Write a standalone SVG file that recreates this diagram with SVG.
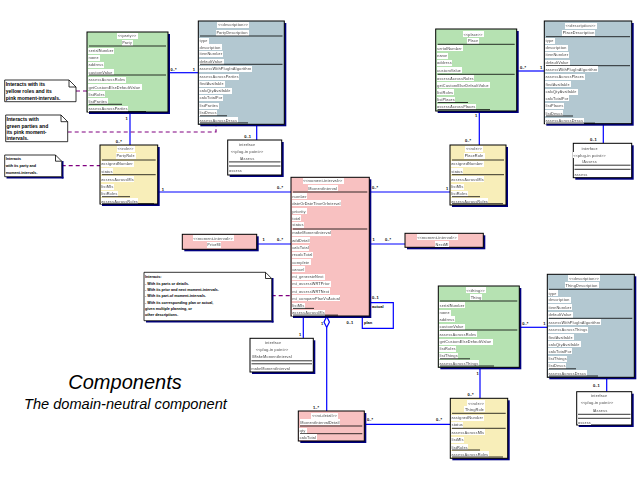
<svg xmlns="http://www.w3.org/2000/svg" width="640" height="480" viewBox="0 0 640 480">
<defs>
<filter id="bg" x="0" y="0" width="1" height="1"><feFlood flood-color="#ffffff"/><feComposite in="SourceGraphic" operator="over"/></filter>
<style>
.t{font-family:"Liberation Sans",Arial,sans-serif;font-size:3.9px;font-weight:bold;fill:#000;filter:url(#bg)}
.c{text-anchor:middle}
.m{font-family:"Liberation Sans",Arial,sans-serif;font-size:4px;font-weight:bold;fill:#000}
.n{font-family:"Liberation Sans",Arial,sans-serif;font-size:5px;font-weight:bold;fill:#000}
.n4{font-family:"Liberation Sans",Arial,sans-serif;font-size:3.7px;font-weight:bold;fill:#000}
.box{stroke:#000;stroke-width:1}
.sh{fill:#000080}
.grn{fill:#B6E2B2}
.blu{fill:#B3C8D1}
.yel{fill:#F8EEB9}
.pnk{fill:#F8C1C1}
.wht{fill:#fff}
.s{stroke:#000;stroke-width:0.8}
.conn path,.conn line{stroke:#0000FF;stroke-width:1.2;fill:none}
.conn path.dash{stroke:#800080;stroke-width:1.2;fill:none;stroke-dasharray:4 3}
.note{fill:#fff;stroke:#000;stroke-width:0.8}
.fold{fill:none;stroke:#000;stroke-width:0.8}
</style>
</defs>
<rect width="640" height="480" fill="#fff"/>

<g class="conn" id="connectors">
<line x1="168" y1="72.7" x2="198.3" y2="72.7"/>
<line x1="130" y1="112" x2="130" y2="145"/>
<line x1="256.7" y1="124.3" x2="256.7" y2="140"/>
<line x1="157.7" y1="192" x2="291" y2="192"/>
<line x1="516.7" y1="71" x2="544.3" y2="71"/>
<line x1="479.3" y1="111" x2="479.3" y2="145"/>
<line x1="603.3" y1="123.7" x2="603.3" y2="143.3"/>
<line x1="369.3" y1="192" x2="450" y2="192"/>
<line x1="256.7" y1="244" x2="291" y2="244"/>
<line x1="369.3" y1="244" x2="405" y2="244"/>
<path d="M369.3,302.7 H393.3 V328.3 H362.3 V316"/>
<line x1="303.3" y1="316" x2="303.3" y2="338.3"/>
<line x1="326.7" y1="327.5" x2="326.7" y2="411"/>
<path d="M326.7,316.5 L329.4,322 L326.7,327.5 L324,322 Z" style="fill:#fff"/>
<line x1="364.3" y1="424.3" x2="450.3" y2="424.3"/>
<line x1="480" y1="367.3" x2="480" y2="398.3"/>
<line x1="519.3" y1="327.3" x2="547.3" y2="327.3"/>
<line x1="606.7" y1="377.3" x2="606.7" y2="391.7"/>
<path class="dash" d="M76,91 H87"/>
<path class="dash" d="M67.7,132 H216 V124.3"/>
<path class="dash" d="M61.7,165.7 H100"/>
<path class="dash" d="M271.7,295.7 H291"/>
</g>

<g id="labels">
<text class="m" x="170.5" y="70.7">0..*</text>
<text class="m" x="192.7" y="70.7">1</text>
<text class="m" x="125.5" y="120">1</text>
<text class="m" x="115.7" y="143">0..*</text>
<text class="m" x="244.3" y="138">0..1</text>
<text class="m" x="161.7" y="190.5">1</text>
<text class="m" x="277" y="188.5">0..*</text>
<text class="m" x="520" y="68.7">0..*</text>
<text class="m" x="540" y="68.7">1</text>
<text class="m" x="475" y="117">1</text>
<text class="m" x="465" y="142.4">0..*</text>
<text class="m" x="590" y="140.7">0..1</text>
<text class="m" x="372" y="188.5">0..*</text>
<text class="m" x="446" y="189.5">1</text>
<text class="m" x="262.5" y="241.4">1</text>
<text class="m" x="277" y="241.4">0..*</text>
<text class="m" x="372.5" y="241.4">1</text>
<text class="m" x="385" y="241.4">0..*</text>
<text class="m" x="372" y="299.1">0..1</text>
<text class="m" x="372" y="308.1">actual</text>
<text class="m" x="346.5" y="324.1">0..1</text>
<text class="m" x="364" y="324.1">plan</text>
<text class="m" x="299" y="336.4">1</text>
<text class="m" x="321" y="324.7">1</text>
<text class="m" x="313" y="409.1">1..*</text>
<text class="m" x="367" y="421.4">0..*</text>
<text class="m" x="436" y="421.4">0..*</text>
<text class="m" x="476.5" y="374.7">1</text>
<text class="m" x="467.5" y="395.7">0..*</text>
<text class="m" x="522.3" y="324.7">0..*</text>
<text class="m" x="543.3" y="324.7">1</text>
<text class="m" x="593" y="387.4">0..1</text>
</g>

<g id="party">
<rect class="sh" x="89" y="34" width="81" height="80"/>
<rect class="box grn" x="87" y="32" width="81" height="80"/>
<text class="t c" x="127" y="37.4">&lt;&lt;party&gt;&gt;</text>
<text class="t c" x="127" y="44.4">Party</text>
<line class="s" x1="89" y1="46" x2="166" y2="46"/>
<text class="t" x="88.5" y="52.1">serialNumber</text>
<text class="t" x="88.5" y="59.1">name</text>
<text class="t" x="88.5" y="66.4">address</text>
<text class="t" x="88.5" y="73.7">customValue</text>
<line class="s" x1="89" y1="75" x2="166" y2="75"/>
<text class="t" x="88.5" y="81.4">assessAcrossRoles</text>
<text class="t" x="88.5" y="88.7">getCustomElseDefaultValue</text>
<text class="t" x="88.5" y="95.9">listRoles</text>
<text class="t" x="88.5" y="102.9">listParties</text>
<text class="t" x="88.5" y="110.4">assessAcrossParties</text>
<line class="s" x1="89" y1="104.3" x2="122" y2="104.3"/>
<line class="s" x1="89" y1="111.5" x2="146" y2="111.5"/>
</g>

<g id="partyDescription">
<rect class="sh" x="200.3" y="23" width="86" height="103.3"/>
<rect class="box blu" x="198.3" y="21" width="86" height="103.3"/>
<text class="t c" x="233" y="26.4">&lt;&lt;description&gt;&gt;</text>
<text class="t c" x="232" y="34.1">PartyDescription</text>
<line class="s" x1="200" y1="36" x2="282.5" y2="36"/>
<text class="t" x="199.5" y="42.1">type</text>
<text class="t" x="199.5" y="48.7">description</text>
<text class="t" x="199.5" y="55.4">itemNumber</text>
<text class="t" x="199.5" y="63.1">defaultValue</text>
<line class="s" x1="200" y1="64.3" x2="282.5" y2="64.3"/>
<text class="t" x="199.5" y="70.4">assessWithPlugInAlgorithm</text>
<text class="t" x="199.5" y="78.1">assessAcrossParties</text>
<text class="t" x="199.5" y="85.4">findAvailable</text>
<text class="t" x="199.5" y="92.4">calcQtyAvailable</text>
<text class="t" x="199.5" y="99.4">calcTotalFor</text>
<text class="t" x="199.5" y="107.1">listParties</text>
<text class="t" x="199.5" y="114.4">listDescs</text>
<text class="t" x="199.5" y="121.7">assessAcrossDescs</text>
<line class="s" x1="200" y1="115.8" x2="227" y2="115.8"/>
<line class="s" x1="200" y1="122.9" x2="248" y2="122.9"/>
</g>

<g id="partyDescriptionPlugIn">
<rect class="sh" x="229.7" y="142" width="54" height="35"/>
<rect class="box wht" x="227.7" y="140" width="54" height="35"/>
<text class="t c" x="247" y="146.4">interface</text>
<text class="t c" x="247" y="153.4">&lt;&lt;plug-in point&gt;&gt;</text>
<text class="t c" x="247" y="160.1">IAssess</text>
<line class="s" x1="229" y1="161.9" x2="280.5" y2="161.9"/>
<line class="s" x1="229" y1="166" x2="280.5" y2="166"/>
<text class="t" x="229" y="172.4">assess</text>
</g>

<g id="partyRole">
<rect class="sh" x="102" y="147" width="57.7" height="59"/>
<rect class="box yel" x="100" y="145" width="57.7" height="59"/>
<text class="t c" x="125.5" y="150.4">&lt;&lt;role&gt;&gt;</text>
<text class="t c" x="125.5" y="157.4">PartyRole</text>
<line class="s" x1="102" y1="160" x2="155.7" y2="160"/>
<text class="t" x="101.2" y="165.4">assignedNumber</text>
<text class="t" x="101.2" y="172.7">status</text>
<line class="s" x1="102" y1="174.7" x2="155.7" y2="174.7"/>
<text class="t" x="101.2" y="180.7">assessAcrossMIs</text>
<text class="t" x="101.2" y="188.1">listMIs</text>
<text class="t" x="101.2" y="195.4">listRoles</text>
<text class="t" x="101.2" y="202.7">assessAcrossRoles</text>
<line class="s" x1="102" y1="196.7" x2="130" y2="196.7"/>
<line class="s" x1="102" y1="203.7" x2="154" y2="203.7"/>
</g>

<g id="place">
<rect class="sh" x="437.7" y="31" width="81" height="82"/>
<rect class="box grn" x="435.7" y="29" width="81" height="82"/>
<text class="t c" x="473" y="35.7">&lt;&lt;place&gt;&gt;</text>
<text class="t c" x="473" y="42.1">Place</text>
<line class="s" x1="437.7" y1="44.3" x2="514.7" y2="44.3"/>
<text class="t" x="437" y="49.7">serialNumber</text>
<text class="t" x="437" y="57.1">name</text>
<text class="t" x="437" y="64.4">address</text>
<text class="t" x="437" y="71.7">customValue</text>
<line class="s" x1="437.7" y1="74.3" x2="514.7" y2="74.3"/>
<text class="t" x="437" y="79.7">assessAcrossRoles</text>
<text class="t" x="437" y="86.7">getCustomElseDefaultValue</text>
<text class="t" x="437" y="93.7">listRoles</text>
<text class="t" x="437" y="101.1">listPlaces</text>
<text class="t" x="437" y="108.4">assessAcrossPlaces</text>
<line class="s" x1="437.5" y1="102.5" x2="468" y2="102.5"/>
<line class="s" x1="437.5" y1="109.6" x2="490" y2="109.6"/>
</g>

<g id="placeDescription">
<rect class="sh" x="546.3" y="23" width="87.4" height="102.7"/>
<rect class="box blu" x="544.3" y="21" width="87.4" height="102.7"/>
<text class="t c" x="580.5" y="27.1">&lt;&lt;description&gt;&gt;</text>
<text class="t c" x="578.5" y="34.1">PlaceDescription</text>
<line class="s" x1="546" y1="36.7" x2="630" y2="36.7"/>
<text class="t" x="545.5" y="42.1">type</text>
<text class="t" x="545.5" y="49.1">description</text>
<text class="t" x="545.5" y="56.4">itemNumber</text>
<text class="t" x="545.5" y="64.1">defaultValue</text>
<line class="s" x1="546" y1="65.7" x2="630" y2="65.7"/>
<text class="t" x="545.5" y="70.7">assessWithPlugInAlgorithm</text>
<text class="t" x="545.5" y="78.1">assessAcrossPlaces</text>
<text class="t" x="545.5" y="85.7">findAvailable</text>
<text class="t" x="545.5" y="93.1">calcQtyAvailable</text>
<text class="t" x="545.5" y="99.7">calcTotalFor</text>
<text class="t" x="545.5" y="107.1">listPlaces</text>
<text class="t" x="545.5" y="114.7">listDescs</text>
<text class="t" x="545.5" y="122.2">assessAcrossDescs</text>
<line class="s" x1="546" y1="116" x2="573" y2="116"/>
<line class="s" x1="546" y1="123.1" x2="595" y2="123.1"/>
</g>

<g id="placeDescriptionPlugIn">
<rect class="sh" x="575.3" y="145.3" width="58.4" height="34.4"/>
<rect class="box wht" x="573.3" y="143.3" width="58.4" height="34.4"/>
<text class="t c" x="589.5" y="149.7">interface</text>
<text class="t c" x="589.5" y="156.7">&lt;&lt;plug-in point&gt;&gt;</text>
<text class="t c" x="589.5" y="163.4">IAssess</text>
<line class="s" x1="574.5" y1="165.2" x2="630.5" y2="165.2"/>
<line class="s" x1="574.5" y1="169.3" x2="630.5" y2="169.3"/>
<text class="t" x="574.5" y="175.7">assess</text>
</g>

<g id="placeRole">
<rect class="sh" x="452" y="147" width="56" height="60"/>
<rect class="box yel" x="450" y="145" width="56" height="60"/>
<text class="t c" x="474" y="150.4">&lt;&lt;role&gt;&gt;</text>
<text class="t c" x="474" y="157.4">PlaceRole</text>
<line class="s" x1="452" y1="160" x2="504" y2="160"/>
<text class="t" x="451.2" y="165.4">assignedNumber</text>
<text class="t" x="451.2" y="172.7">status</text>
<line class="s" x1="452" y1="174.7" x2="504" y2="174.7"/>
<text class="t" x="451.2" y="180.7">assessAcrossMIs</text>
<text class="t" x="451.2" y="188.1">listMIs</text>
<text class="t" x="451.2" y="195.4">listRoles</text>
<text class="t" x="451.2" y="202.7">assessAcrossRoles</text>
<line class="s" x1="452" y1="196.7" x2="480" y2="196.7"/>
<line class="s" x1="452" y1="203.7" x2="503" y2="203.7"/>
</g>

<g id="momentInterval">
<rect class="sh" x="293" y="179.3" width="78.3" height="138.7"/>
<rect class="box pnk" x="291" y="177.3" width="78.3" height="138.7"/>
<text class="t c" x="322.7" y="182.4">&lt;&lt;moment-interval&gt;&gt;</text>
<text class="t c" x="322.7" y="189.7">MomentInterval</text>
<line class="s" x1="293" y1="192" x2="367.3" y2="192"/>
<text class="t" x="292.2" y="197.7">number</text>
<text class="t" x="292.2" y="204.7">dateOrDateTimeOrInterval</text>
<text class="t" x="292.2" y="212.7">priority</text>
<text class="t" x="292.2" y="219.7">total</text>
<text class="t" x="292.2" y="226.4">status</text>
<line class="s" x1="293" y1="229" x2="367.3" y2="229"/>
<text class="t" x="292.2" y="234.4">makeMomentInterval</text>
<text class="t" x="292.2" y="241.7">addDetail</text>
<text class="t" x="292.2" y="249.1">calcTotal</text>
<text class="t" x="292.2" y="256.4">recalcTotal</text>
<text class="t" x="292.2" y="263.7">complete</text>
<text class="t" x="292.2" y="270.7">cancel</text>
<text class="t" x="292.2" y="278.1">mi_generateNext</text>
<text class="t" x="292.2" y="285.4">mi_assessWRTPrior</text>
<text class="t" x="292.2" y="292.7">mi_assessWRTNext</text>
<text class="t" x="292.2" y="299.7">mi_comparePlanVsActual</text>
<text class="t" x="292.2" y="307.1">listMIs</text>
<text class="t" x="292.2" y="314.4">assessAcrossMIs</text>
<line class="s" x1="293" y1="308.4" x2="314" y2="308.4"/>
<line class="s" x1="293" y1="315.1" x2="338" y2="315.1"/>
</g>

<g id="priorMI">
<rect class="sh" x="184.3" y="236.3" width="74.4" height="15"/>
<rect class="box pnk" x="182.3" y="234.3" width="74.4" height="15"/>
<text class="t c" x="213" y="239.6">&lt;&lt;moment-interval&gt;&gt;</text>
<text class="t c" x="214" y="246.4">PriorMI</text>
</g>

<g id="nextMI">
<rect class="sh" x="407" y="235.3" width="78.3" height="14"/>
<rect class="box pnk" x="405" y="233.3" width="78.3" height="14"/>
<text class="t c" x="437" y="238.7">&lt;&lt;moment-interval&gt;&gt;</text>
<text class="t c" x="442" y="245.7">NextMI</text>
</g>

<g id="makeMIPlugIn">
<rect class="sh" x="252" y="340.3" width="63.3" height="33.7"/>
<rect class="box wht" x="250" y="338.3" width="63.3" height="33.7"/>
<text class="t c" x="273" y="343.7">interface</text>
<text class="t c" x="272" y="351.1">&lt;&lt;plug-in point&gt;&gt;</text>
<text class="t c" x="272" y="358.1">IMakeMomentInterval</text>
<line class="s" x1="251.5" y1="360.8" x2="312" y2="360.8"/>
<line class="s" x1="251.5" y1="363.8" x2="312" y2="363.8"/>
<text class="t" x="251.3" y="369.7">makeMomentInterval</text>
</g>

<g id="momentIntervalDetail">
<rect class="sh" x="300.3" y="413" width="66" height="30"/>
<rect class="box pnk" x="298.3" y="411" width="66" height="30"/>
<text class="t c" x="324.5" y="417.1">&lt;&lt;mi-detail&gt;&gt;</text>
<text class="t c" x="320" y="423.7">MomentIntervalDetail</text>
<line class="s" x1="300" y1="426" x2="362.3" y2="426"/>
<text class="t" x="299.5" y="432.1">qty</text>
<line class="s" x1="300" y1="433.7" x2="362.3" y2="433.7"/>
<text class="t" x="299.5" y="438.7">calcTotal</text>
</g>

<g id="thing">
<rect class="sh" x="440.3" y="288" width="81" height="81.3"/>
<rect class="box grn" x="438.3" y="286" width="81" height="81.3"/>
<text class="t c" x="475.5" y="291.7">&lt;&lt;thing&gt;&gt;</text>
<text class="t c" x="476" y="298.7">Thing</text>
<line class="s" x1="440" y1="301" x2="517.3" y2="301"/>
<text class="t" x="439.5" y="306.7">serialNumber</text>
<text class="t" x="439.5" y="314.1">name</text>
<text class="t" x="439.5" y="320.7">address</text>
<text class="t" x="439.5" y="328.4">customValue</text>
<line class="s" x1="440" y1="330" x2="517.3" y2="330"/>
<text class="t" x="439.5" y="335.7">assessAcrossRoles</text>
<text class="t" x="439.5" y="343.4">getCustomElseDefaultValue</text>
<text class="t" x="439.5" y="350.4">listRoles</text>
<text class="t" x="439.5" y="357.4">listThings</text>
<text class="t" x="439.5" y="364.7">assessAcrossThings</text>
<line class="s" x1="440" y1="358.8" x2="470" y2="358.8"/>
<line class="s" x1="440" y1="366" x2="494" y2="366"/>
</g>

<g id="thingDescription">
<rect class="sh" x="549.3" y="276.3" width="87" height="103"/>
<rect class="box blu" x="547.3" y="274.3" width="87" height="103"/>
<text class="t c" x="584" y="279.7">&lt;&lt;description&gt;&gt;</text>
<text class="t c" x="581.5" y="286.7">ThingDescription</text>
<line class="s" x1="549" y1="289.3" x2="632.3" y2="289.3"/>
<text class="t" x="548.5" y="294.7">type</text>
<text class="t" x="548.5" y="301.4">description</text>
<text class="t" x="548.5" y="308.7">itemNumber</text>
<text class="t" x="548.5" y="316.4">defaultValue</text>
<line class="s" x1="549" y1="318.3" x2="632.3" y2="318.3"/>
<text class="t" x="548.5" y="323.7">assessWithPlugInAlgorithm</text>
<text class="t" x="548.5" y="331.4">assessAcrossThings</text>
<text class="t" x="548.5" y="338.7">findAvailable</text>
<text class="t" x="548.5" y="345.7">calcQtyAvailable</text>
<text class="t" x="548.5" y="352.7">calcTotalFor</text>
<text class="t" x="548.5" y="360.4">listThings</text>
<text class="t" x="548.5" y="367.4">listDescs</text>
<text class="t" x="548.5" y="374.7">assessAcrossDescs</text>
<line class="s" x1="549" y1="368.8" x2="576" y2="368.8"/>
<line class="s" x1="549" y1="376" x2="598" y2="376"/>
</g>

<g id="thingDescriptionPlugIn">
<rect class="sh" x="578.7" y="393.7" width="55" height="33.3"/>
<rect class="box wht" x="576.7" y="391.7" width="55" height="33.3"/>
<text class="t c" x="599" y="397.4">interface</text>
<text class="t c" x="597" y="404.4">&lt;&lt;plug-in point&gt;&gt;</text>
<text class="t c" x="600" y="412.1">IAssess</text>
<line class="s" x1="578" y1="414.3" x2="630.5" y2="414.3"/>
<line class="s" x1="578" y1="418.3" x2="630.5" y2="418.3"/>
<text class="t" x="578" y="423.7">assess</text>
</g>

<g id="thingRole">
<rect class="sh" x="452.3" y="400.3" width="57.4" height="60"/>
<rect class="box yel" x="450.3" y="398.3" width="57.4" height="60"/>
<text class="t c" x="476" y="404.7">&lt;&lt;role&gt;&gt;</text>
<text class="t c" x="474.5" y="410.7">ThingRole</text>
<line class="s" x1="452" y1="413.3" x2="505.7" y2="413.3"/>
<text class="t" x="451.5" y="419.1">assignedNumber</text>
<text class="t" x="451.5" y="426.4">status</text>
<line class="s" x1="452" y1="428.3" x2="505.7" y2="428.3"/>
<text class="t" x="451.5" y="433.7">assessAcrossMIs</text>
<text class="t" x="451.5" y="441.4">listMIs</text>
<text class="t" x="451.5" y="448.7">listRoles</text>
<text class="t" x="451.5" y="455.7">assessAcrossRoles</text>
<line class="s" x1="452" y1="450" x2="480" y2="450"/>
<line class="s" x1="452" y1="457" x2="503" y2="457"/>
</g>

<g id="notePartyRoles">
<path class="note" d="M4.7,80 H69 L76,87 V101.7 H4.7 Z"/>
<path class="fold" d="M69,80 V87 H76"/>
<text class="n" x="5.7" y="86">Interacts with its</text>
<text class="n" x="5.7" y="92.7">yellow roles and its</text>
<text class="n" x="5.7" y="99.6">pink moment-intervals.</text>
</g>

<g id="noteDescription">
<path class="note" d="M5.7,115 H61 L67.7,121.7 V141.7 H5.7 Z"/>
<path class="fold" d="M61,115 V121.7 H67.7"/>
<text class="n" x="6.5" y="121">Interacts with</text>
<text class="n" x="6.5" y="127.7">green parties and</text>
<text class="n" x="6.5" y="134.4">its pink moment-</text>
<text class="n" x="6.5" y="140.4">intervals.</text>
</g>

<g id="noteRole">
<rect class="sh" x="61.7" y="161" width="1.8" height="17.5"/>
<rect class="sh" x="6.5" y="176.7" width="57" height="1.8"/>
<path class="note" d="M4.7,155 H55.5 L61.7,161.2 V176.7 H4.7 Z"/>
<path class="fold" d="M55.5,155 V161.2 H61.7"/>
<text class="n4" x="5.7" y="160.4">Interacts</text>
<text class="n4" x="5.7" y="167.4">with its party and</text>
<text class="n4" x="5.7" y="174.4">moment-intervals.</text>
</g>

<g id="noteMomentInterval">
<rect class="sh" x="271.7" y="278" width="1.8" height="44.5"/>
<rect class="sh" x="146" y="320.7" width="127.5" height="1.8"/>
<path class="note" d="M144,272.3 H265.5 L271.7,278.5 V320.7 H144 Z"/>
<path class="fold" d="M265.5,272.3 V278.5 H271.7"/>
<text class="n4" x="145" y="278.1">Interacts:</text>
<text class="n4" x="145" y="284.7">- With its parts or details.</text>
<text class="n4" x="145" y="290.7">- With its prior and next moment-intervals.</text>
<text class="n4" x="145" y="297.1">- With its part-of moment-intervals.</text>
<text class="n4" x="145" y="303.7">- With its corresponding plan or actual,</text>
<text class="n4" x="145" y="310.4">given multiple planning, or</text>
<text class="n4" x="145" y="316.4">other descriptions.</text>
</g>

<g id="title">
<text x="68.3" y="389" style="font-family:'Liberation Sans',Arial,sans-serif;font-size:20px;font-style:italic;fill:#000">Components</text>
<text x="24" y="409" style="font-family:'Liberation Sans',Arial,sans-serif;font-size:14.6px;font-style:italic;fill:#000">The domain-neutral component</text>
</g>
</svg>
